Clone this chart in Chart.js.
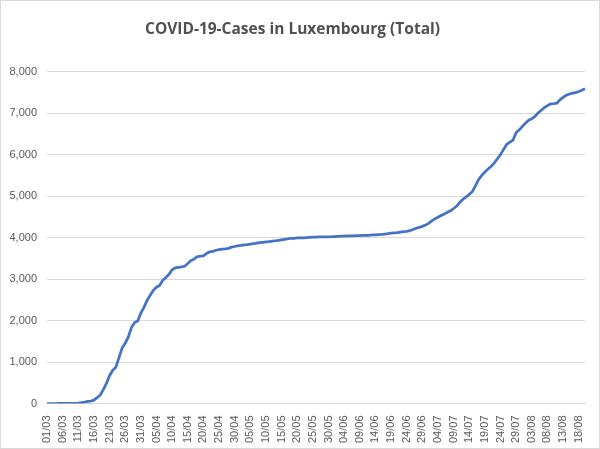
<!DOCTYPE html>
<html>
<head>
<meta charset="utf-8">
<script src="https://cdn.jsdelivr.net/npm/chart.js@4"></script>
<style>
html,body{margin:0;padding:0;background:#fff;}
#wrap{width:600px;height:449px;position:relative;}
</style>
</head>
<body>
<div id="wrap"><canvas id="c" width="600" height="449"></canvas></div>
<script>
const titleText = 'COVID-19-Cases in Luxembourg (Total)';
const startDate = [2020, 2, 1];
const dayCount = 173;
const yTicks = [0, 1000, 2000, 3000, 4000, 5000, 6000, 7000, 8000];

const marchCases = [0,0,0,0,1,2,3,3,5,5,7,19,34,51,59,81,140,203,335,484,670,798,875,1099,1333,1453,1605,1831,1950,1988,2178];
const aprilCases = [2319,2487,2612,2729,2804,2843,2970,3034,3115,3223,3270,3281,3292,3307,3373,3444,3480,3537,3550,3558,3618,3654,3665,3695,3711,3723,3729,3741,3769,3784];
const mayCases = [3802,3812,3824,3828,3840,3851,3865,3877,3886,3894,3900,3915,3923,3930,3945,3958,3971,3980,3981,3990,3993,3995,4000,4005,4008,4012,4014,4016,4018,4019,4020];
const juneCases = [4024,4030,4032,4035,4039,4040,4040,4046,4049,4052,4054,4055,4065,4066,4070,4075,4085,4093,4104,4113,4120,4133,4140,4150,4165,4195,4225,4245,4270,4300];
const julyCases = [4340,4400,4450,4490,4530,4565,4610,4645,4700,4760,4850,4925,4980,5040,5110,5250,5400,5500,5580,5650,5720,5800,5900,6000,6130,6250,6300,6350,6530,6600,6680];
const augustCases = [6760,6830,6860,6920,7000,7070,7130,7180,7220,7225,7240,7320,7380,7430,7460,7480,7495,7520,7550,7590];

const cases = [].concat(marchCases, aprilCases, mayCases, juneCases, julyCases, augustCases);

const labels = [];
for (let i = 0; i < dayCount; i++) {
  const d = new Date(startDate[0], startDate[1], startDate[2] + i);
  labels.push(String(d.getDate()).padStart(2,'0') + '/' + String(d.getMonth()+1).padStart(2,'0'));
}

const borderPlugin = {
  id: 'outerBorder',
  afterDraw(chart) {
    const ctx = chart.ctx;
    ctx.save();
    ctx.strokeStyle = '#d9d9d9';
    ctx.lineWidth = 1;
    ctx.strokeRect(0.5, 0.5, chart.width - 1, chart.height - 1);
    ctx.restore();
  }
};

const tickFont = {family: '"Liberation Sans", Arial, sans-serif', size: 11};

new Chart(document.getElementById('c'), {
  type: 'line',
  data: {
    labels: labels,
    datasets: [{
      data: cases,
      borderColor: '#4472C4',
      borderWidth: 2.75,
      pointRadius: 0,
      tension: 0,
      fill: false
    }]
  },
  options: {
    responsive: false,
    animation: false,
    devicePixelRatio: 1,
    layout: {padding: {left: 0, right: 15, top: 0, bottom: 0}},
    plugins: {
      legend: {display: false},
      tooltip: {enabled: false},
      title: {
        display: true,
        text: titleText,
        color: '#505050',
        font: {family: '"Open Sans", "Noto Sans", sans-serif', size: 15.5, weight: 'bold'},
        padding: {top: 20, bottom: 33}
      }
    },
    scales: {
      x: {
        type: 'category',
        offset: false,
        grid: {display: false},
        border: {display: true, color: '#d9d9d9'},
        ticks: {
          autoSkip: false,
          minRotation: 90,
          maxRotation: 90,
          padding: 4,
          color: '#595959',
          font: tickFont,
          callback: function(v, i) { return i % 5 === 0 ? labels[i] : null; }
        },
        afterFit: function(s) { s.height = 45.5; }
      },
      y: {
        min: 0,
        max: 8000,
        afterBuildTicks: function(s) { s.ticks = yTicks.map(v => ({value: v})); },
        grid: {color: '#d9d9d9', drawTicks: false},
        border: {display: false},
        ticks: {
          padding: 10,
          color: '#595959',
          font: tickFont,
          callback: function(v) { return v.toLocaleString('en-US'); }
        },
        afterFit: function(s) { s.width = 47; }
      }
    }
  },
  plugins: [borderPlugin]
});
</script>
</body>
</html>
